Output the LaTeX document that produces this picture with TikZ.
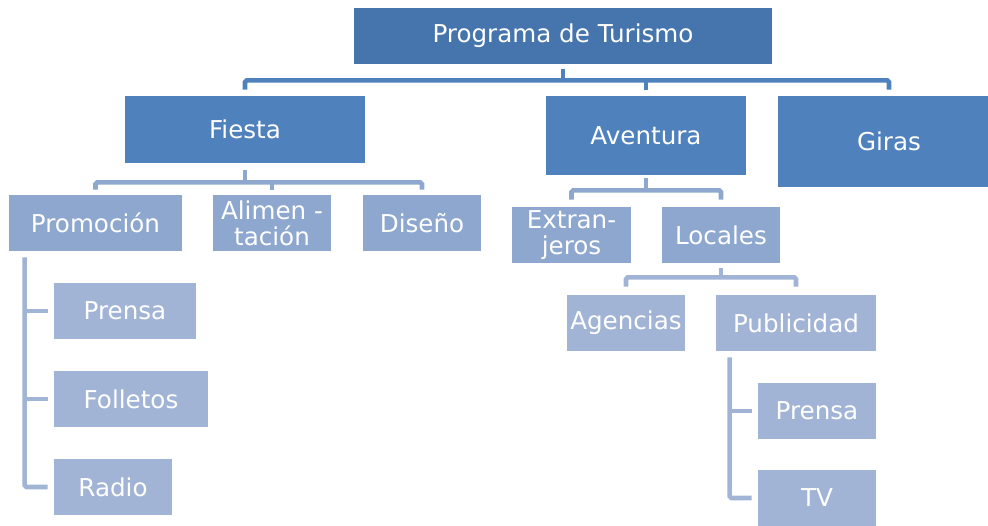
\documentclass[tikz,border=0pt]{standalone}
\usepackage{fontspec}
\setmainfont{DejaVu Sans}
\usepackage{xcolor}
\usepackage{tikz}
\usetikzlibrary{positioning}

\definecolor{topblue}{RGB}{70,116,173}
\definecolor{midblue}{RGB}{79,129,189}
\definecolor{lowblue}{RGB}{141,167,207}
\definecolor{leafblue}{RGB}{162,180,213}

\begin{document}
\begin{tikzpicture}[
  box/.style={inner sep=0pt, text=white, align=center, font=\fontsize{14}{14.6}\selectfont, minimum height=1.12cm},
  toplvl/.style={box, fill=topblue},
  lvlA/.style={box, fill=midblue},
  lvlB/.style={box, fill=lowblue},
  lvlC/.style={box, fill=leafblue},
  linkA/.style={draw=midblue, line width=2.6pt, rounded corners=1pt},
  linkB/.style={draw=lowblue, line width=2.6pt, rounded corners=1pt},
  linkC/.style={draw=leafblue, line width=2.6pt, rounded corners=1pt}]
\useasboundingbox (0,0) rectangle (19.76,-10.5);
\node[toplvl, minimum width=8.36cm] (prog) at (11.26,-0.72) {Programa de Turismo};
\node[lvlA, minimum width=4.8cm, minimum height=1.34cm] (fiesta) at (4.9,-2.59) {Fiesta};
\node[lvlA, minimum width=4cm, minimum height=1.58cm] (aventura) at (12.92,-2.71) {Aventura};
\node[lvlA, minimum width=4.44cm, minimum height=1.82cm] (giras) at (17.78,-2.83) {Giras};
\node[lvlB, minimum width=3.46cm] (promo) at (1.91,-4.46) {Promoción};
\node[lvlB, minimum width=2.36cm] (alimen) at (5.44,-4.46) {Alimen -\\tación};
\node[lvlB, minimum width=2.36cm] (diseno) at (8.44,-4.46) {Diseño};
\node[lvlC, minimum width=2.84cm] (prensa) at (2.5,-6.22) {Prensa};
\node[lvlC, minimum width=3.08cm] (folletos) at (2.62,-7.98) {Folletos};
\node[lvlC, minimum width=2.36cm] (radio) at (2.26,-9.74) {Radio};
\node[lvlB, minimum width=2.38cm] (extran) at (11.43,-4.7) {Extran-\\jeros};
\node[lvlB, minimum width=2.36cm] (locales) at (14.42,-4.7) {Locales};
\node[lvlC, minimum width=2.36cm] (agencias) at (12.52,-6.46) {Agencias};
\node[lvlC, minimum width=3.2cm] (publi) at (15.92,-6.46) {Publicidad};
\node[lvlC, minimum width=2.36cm] (prensab) at (16.34,-8.22) {Prensa};
\node[lvlC, minimum width=2.36cm] (tv) at (16.34,-9.96) {TV};

\draw[linkA] ([yshift=-1mm]prog.south) -- ++(0,-2.2mm) coordinate (progj);
\draw[linkA] ([yshift=1.2mm]fiesta.north) |- (progj) -| ([yshift=1.2mm]giras.north);
\draw[linkA] ([yshift=1.2mm]aventura.north) -- (aventura.north |- progj);

\draw[linkB] ([yshift=-1.4mm]fiesta.south) -- ++(0,-2.4mm) coordinate (fiestaj);
\draw[linkB] ([yshift=1mm]promo.north) |- (fiestaj) -| ([yshift=1mm]diseno.north);
\draw[linkB] ([yshift=1mm]alimen.north) -- (alimen.north |- fiestaj);

\draw[linkB] ([yshift=-0.6mm]aventura.south) -- ++(0,-2.4mm) coordinate (aventuraj);
\draw[linkB] ([yshift=1.4mm]extran.north) |- (aventuraj) -| ([yshift=1.4mm]locales.north);

\draw[linkC] ([yshift=-1mm]locales.south) -- ++(0,-1.8mm) coordinate (localesj);
\draw[linkC] ([yshift=1.6mm]agencias.north) |- (localesj) -| ([yshift=1.6mm]publi.north);

\draw[linkC] ([shift={(0.32,-0.12)}]promo.south west) coordinate (promov) |- ([xshift=-1.2mm]radio.west);
\draw[linkC] ([xshift=-1.2mm]prensa.west) -- (prensa.west -| promov);
\draw[linkC] ([xshift=-1.2mm]folletos.west) -- (folletos.west -| promov);

\draw[linkC] ([shift={(0.28,-0.12)}]publi.south west) coordinate (publiv) |- ([xshift=-1.2mm]tv.west);
\draw[linkC] ([xshift=-1.2mm]prensab.west) -- (prensab.west -| publiv);
\end{tikzpicture}
\end{document}
